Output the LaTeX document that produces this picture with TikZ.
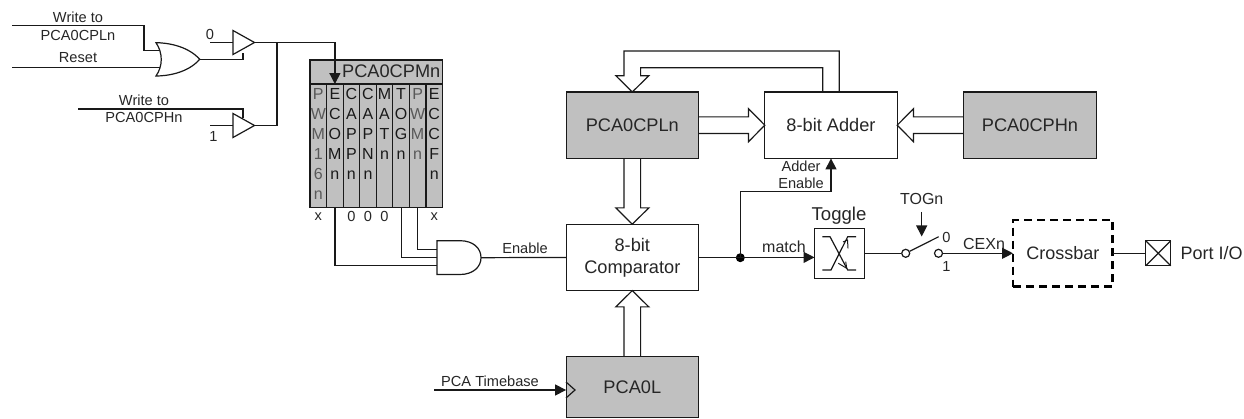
\documentclass[tikz,border=0pt]{standalone}
\usepackage{fontspec}
\setmainfont{Liberation Sans}
\usetikzlibrary{arrows.meta,calc}
\definecolor{blockgray}{HTML}{C0C0C0}
\newcommand{\fs}[1]{\fontsize{#1}{#1}\selectfont}
\newcommand{\busarrow}[2]{%
  \coordinate (h) at ($(#2)!16.3pt!(#1)$);
  \draw[wire,line join=miter] ($(#1)!8.3pt!90:(h)$) -- ($(h)!8.3pt!-90:(#1)$) -- ($(h)!16.5pt!-90:(#1)$) -- (#2)
    -- ($(h)!16.5pt!90:(#1)$) -- ($(h)!8.3pt!90:(#1)$) -- ($(#1)!8.3pt!-90:(h)$);}
\tikzset{
  wire/.style={line width=1.2pt,draw=black!90},
  tipped/.style={wire,-{Triangle[length=11pt,width=11pt]}},
  block/.style={draw=black!90,line width=1.2pt,minimum width=132.4pt,minimum height=66.4pt,inner sep=0pt,outer sep=0pt,align=center,font=\fs{18.2},text=black!85},
  grayblock/.style={block,fill=blockgray},
  lbl/.style={inner sep=0pt,outer sep=0pt,font=\fs{14.6},text=black!85},
  lblm/.style={lbl,font=\fs{16}},
  cellbox/.style={draw=black!90,line width=1.2pt,fill=blockgray,minimum width=16.6pt,minimum height=123.7pt,inner sep=0pt,outer sep=0pt},
  celltext/.style={inner sep=0pt,outer sep=0pt,anchor=north,align=center,font=\fontsize{16}{20}\selectfont},
  gate/.style={wire,fill=white,line join=miter},
}
\begin{document}
\begin{tikzpicture}[x=1pt,y=-1pt]
\useasboundingbox (0,0) rectangle (1244,419);
% --- left labels and free ends
\coordinate (wl0) at (12,25.7);
\coordinate (rs0) at (12,67.7);
\coordinate (wh0) at (78,109);
\coordinate (in0) at (210,42.5);
\coordinate (in1) at (210,125.5);
\node[lbl] (t1) at (78,17.5) {Write to};
\node[lbl] (t2) at (78,35.5) {PCA0CPLn};
\node[lbl] (t3) at (78,58) {Reset};
\node[lbl] (t4) at (144,100.5) {Write to};
\node[lbl] (t5) at (144,117.5) {PCA0CPHn};
\node[lbl] (t0) at (210,34) {0};
\node[lbl] (t1b) at (213.5,136) {1};
% OR gate
\coordinate (orA) at (160,50.7);
\coordinate (orB) at (160,67.7);
\coordinate (orO) at (199.7,59.3);
\draw[wire] (wl0) -| (144,50.7) -- (orA);
\draw[wire] (rs0) -- (orB);
\draw[gate] (156,42.7) .. controls (165,42.7) and (187,45) .. (orO)
  .. controls (187,74) and (165,76) .. (156,76)
  .. controls (163,66) and (163,53) .. cycle;
% tri-state buffers
\coordinate (b1O) at (254.5,42.5);
\coordinate (b2O) at (254.5,125.5);
\coordinate (b1E) at (243,53.5);
\coordinate (b2E) at (243,118);
\draw[wire] (in0) -- (233,42.5);
\draw[wire] (in1) -- (233,125.5);
\draw[wire] (orO) -| (b1E);
\draw[wire] (wh0) -| (b2E);
\draw[gate] (233,30.5) -- (b1O) -- (233,54.5) -- cycle;
\draw[gate] (233,113.5) -- (b2O) -- (233,137.5) -- cycle;
% PCA0CPMn register
\node[draw=black!90,line width=1.2pt,fill=blockgray,minimum width=132.4pt,minimum height=24pt,inner sep=0pt,outer sep=0pt] (regh) at (376.2,72) {};
\node[inner sep=0pt,font=\fs{18.2},text=black!85,anchor=east] (regt) at (440.5,71.5) {PCA0CPMn};
\foreach \i/\x/\txt/\col in {
  1/318.3/{P\\W\\M\\1\\6\\n}/black!65,
  2/334.9/{E\\C\\O\\M\\n}/black!90,
  3/351.4/{C\\A\\P\\P\\n}/black!90,
  4/368.0/{C\\A\\P\\N\\n}/black!90,
  5/384.5/{M\\A\\T\\n}/black!90,
  6/401.1/{T\\O\\G\\n}/black!90,
  7/417.6/{P\\W\\M\\n}/black!65,
  8/434.2/{E\\C\\C\\F\\n}/black!90}{
  \node[cellbox] (c\i) at (\x,145.9) {};
  \node[celltext,text=\col] (ct\i) at ($(c\i.north)+(0,4.3)$) {\txt};
}
\node[lbl] (x1) at (318.3,216.7) {x};
\node[lbl] (z3) at (351.4,216.7) {0};
\node[lbl] (z4) at (368,216.7) {0};
\node[lbl] (z5) at (384.5,216.7) {0};
\node[lbl] (x8) at (434.2,216.7) {x};
% buffer outputs to register
\coordinate (jn) at (277,42.5);
\draw[wire] (b2O) -| (jn);
\draw[tipped] (b1O) -| (c2.north);
% AND gate
\coordinate (anA) at (437,249.3);
\coordinate (anB) at (437,257.7);
\coordinate (anC) at (437,265.7);
\coordinate (anO) at (481,257.7);
\draw[wire] (c7.south) |- (anA);
\draw[wire] (c6.south) |- (anB);
\draw[wire] (c2.south) |- (anC);
\draw[gate] (437,240.7) -- (460,240.7) .. controls (473,240.7) and (481,248) .. (anO)
  .. controls (481,267) and (473,274.5) .. (460,274.5) -- (437,274.5) -- cycle;
% main blocks
\node[grayblock] (cpl) at (632.3,125.2) {PCA0CPLn};
\node[block] (adder) at (831,125.2) {8-bit Adder};
\node[grayblock] (cph) at (1030,125.2) {PCA0CPHn};
\node[block,font=\fontsize{18.2}{22}\selectfont] (cmp) at (632.3,257.4) {8-bit\\Comparator};
\node[grayblock,minimum height=61pt] (pcal) at (632.3,387.2) {PCA0L};
\draw[wire] (anO) -- (cmp.west);
\node[lbl] (en) at (525,248) {Enable};
% wide bus arrows
\busarrow{cpl.east}{adder.west}
\busarrow{cph.west}{adder.east}
\busarrow{cpl.south}{cmp.north}
\busarrow{pcal.north}{cmp.south}
\draw[wire,line join=miter] ($(adder.north)+(8.3,0)$) |- ($(cpl.north)+(-8.3,-41)$) -- ($(cpl.north)+(-8.3,-16.3)$)
  -- ($(cpl.north)+(-16.5,-16.3)$) -- (cpl.north) -- ($(cpl.north)+(16.5,-16.3)$) -- ($(cpl.north)+(8.3,-16.3)$)
  -- ($(cpl.north)+(8.3,-24.2)$) -| ($(adder.north)+(-8.3,0)$);
% timebase
\coordinate (tb0) at (434,390);
\node[lbl] (tb) at (490,381) {PCA Timebase};
\draw[tipped] (tb0) -- (pcal.west |- tb0);
\draw[wire,line join=miter] (566,382) -- (575,390) -- (566,398);
% match / toggle
\node[draw=black!90,line width=1.2pt,minimum width=50pt,minimum height=50pt,inner sep=0pt,outer sep=0pt] (tog) at (839.5,253.3) {};
\node[lblm,font=\fs{18.6}] (togl) at (839,216) {Toggle};
\node[circle,fill=black,inner sep=0pt,minimum size=9pt] (dot) at (740.3,257.7) {};
\draw[tipped] (cmp.east) -- (cmp.east -| tog.west);
\draw[tipped] (dot.center) |- (831,191.7) -- (adder.south);
\node[lbl] (ae1) at (801,166) {Adder};
\node[lbl] (ae2) at (801,183) {Enable};
\node[lblm] (mt) at (784,247) {match};
\draw[wire] (822.3,236.7) -- (830,236.7) -- (847.7,270) -- (856,270);
\draw[wire] (822.3,270) -- (831,270) -- (847.7,236.7) -- (856,236.7);
\draw[wire,line width=1pt] (843,242) -- (847.5,240) -- (848,248.3);
\draw[wire,line width=1pt] (838.3,263.3) -- (846.7,268.3) -- (845.7,261.7);
% switch
\node[circle,draw=black!90,line width=1.2pt,fill=white,inner sep=0pt,minimum size=8pt] (sw1) at (905.7,253.3) {};
\node[circle,draw=black!90,line width=1.2pt,fill=white,inner sep=0pt,minimum size=8pt] (sw2) at (938.5,253.3) {};
\coordinate (swt) at (938.7,236.7);
\coordinate (togtip) at (921.7,236.5);
\draw[wire] (tog.east) -- (sw1);
\draw[wire] (sw1) -- (swt);
\node[lblm] (tg) at (921.7,199) {TOGn};
\draw[tipped] (921.7,212) -- (togtip);
\node[lbl] (s0) at (946.3,237) {0};
\node[lbl] (s1) at (946.3,266) {1};
\node[lblm] (cx) at (984,244) {CEXn};
% crossbar
\node[draw=black,line width=2.2pt,dash pattern=on 8pt off 5pt,minimum width=99.5pt,minimum height=66.5pt,inner sep=0pt,outer sep=0pt,font=\fs{18},text=black!85] (xb) at (1062.8,253.3) {Crossbar};
\draw[tipped] (sw2) -- (xb.west);
\node[draw=black!90,line width=1.2pt,minimum size=25pt,inner sep=0pt,outer sep=0pt] (port) at (1158.2,253.3) {};
\draw[wire] (port.north west) -- (port.south east);
\draw[wire] (port.north east) -- (port.south west);
\draw[wire] (xb.east) -- (port.west);
\node[lbl,font=\fs{18}] (pt) at (1211.7,253) {Port I/O};
\end{tikzpicture}
\end{document}
